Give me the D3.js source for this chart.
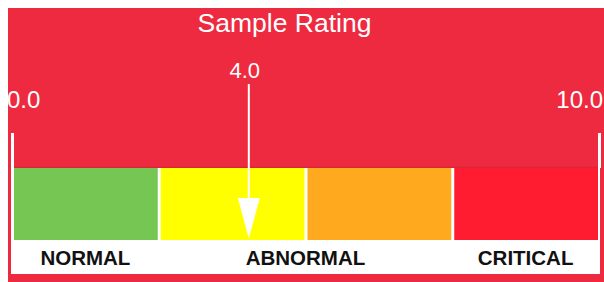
<!DOCTYPE html>
<html><head><meta charset="utf-8">
<script src="https://cdn.jsdelivr.net/npm/d3@7"></script>
<style>html,body{margin:0;padding:0;background:#fff;}svg{display:block;}</style>
</head><body>
<script>
const title = "Sample Rating";
const domainMin = 0, domainMax = 10;
const tickLabels = ["0.0", "10.0"];
const bandStops = [0, 2.5, 5, 7.5, 10];
const bandColors = ["#76C653", "#FFFF00", "#FFA91F", "#FF1B30"];
const categoryNames = ["NORMAL", "ABNORMAL", "CRITICAL"];
const categoryFrom = [0, 2.5, 7.5];
const categoryTo = [2.5, 7.5, 10];
const ratingValue = 4.0;

const W = 604, H = 282;
const svg = d3.select("body").append("svg").attr("width", W).attr("height", H);
const x = d3.scaleLinear().domain([domainMin, domainMax]).range([12.5, 599.5]);

// frame
svg.append("rect").attr("x", 8).attr("y", 8).attr("width", W - 8).attr("height", H - 8).attr("fill", "#EE2A40");
svg.append("rect").attr("x", 11).attr("y", 168).attr("width", 589).attr("height", 106).attr("fill", "#fff");

// tick marks
[domainMin, domainMax].forEach(v => {
  svg.append("rect").attr("x", x(v) - 1.5).attr("y", 133).attr("width", 3).attr("height", 35).attr("fill", "#fff");
});

// bands
const bands = d3.range(bandColors.length).map(i => ({a: bandStops[i], b: bandStops[i + 1], c: bandColors[i]}));
svg.selectAll("rect.band").data(bands).join("rect").attr("class", "band")
  .attr("x", d => x(d.a) + 1.5).attr("y", 168)
  .attr("width", d => x(d.b) - x(d.a) - 3).attr("height", 72)
  .attr("fill", d => d.c);
svg.append("rect").attr("x", x(domainMin) + 1.5).attr("y", 166.5).attr("width", x(domainMax) - x(domainMin) - 3).attr("height", 1.5).attr("fill", "#DE2538");

// title
svg.append("text").attr("x", 284.5).attr("y", 32).attr("text-anchor", "middle")
  .attr("font-family", "Liberation Sans, Arial, sans-serif").attr("font-size", 26.5).attr("fill", "#fff").text(title);

// min/max labels
svg.append("text").attr("x", 7).attr("y", 108).attr("text-anchor", "start")
  .attr("font-family", "Liberation Sans, Arial, sans-serif").attr("font-size", 24).attr("fill", "#fff").text(tickLabels[0]);
svg.append("text").attr("x", 603).attr("y", 108).attr("text-anchor", "end")
  .attr("font-family", "Liberation Sans, Arial, sans-serif").attr("font-size", 24).attr("fill", "#fff").text(tickLabels[1]);

// value pointer
const vx = x(ratingValue) + 1.5;
svg.append("text").attr("x", vx - 4).attr("y", 78).attr("text-anchor", "middle")
  .attr("font-family", "Liberation Sans, Arial, sans-serif").attr("font-size", 22).attr("fill", "#fff").text(ratingValue.toFixed(1));
svg.append("line").attr("x1", vx).attr("x2", vx).attr("y1", 84).attr("y2", 200)
  .attr("stroke", "#fff").attr("stroke-width", 2);
svg.append("path").attr("d", `M${vx - 11},198 L${vx + 11},198 L${vx},238.5 Z`).attr("fill", "#fff");

// category labels
svg.selectAll("text.cat").data(categoryNames).join("text").attr("class", "cat")
  .attr("x", (d, i) => (x(categoryFrom[i]) + x(categoryTo[i])) / 2 - 0.5)
  .attr("y", 265).attr("text-anchor", "middle")
  .attr("font-family", "Liberation Sans, Arial, sans-serif").attr("font-weight", "bold")
  .attr("font-size", 20.5).attr("fill", "#111").text(d => d);
</script>
</body></html>
